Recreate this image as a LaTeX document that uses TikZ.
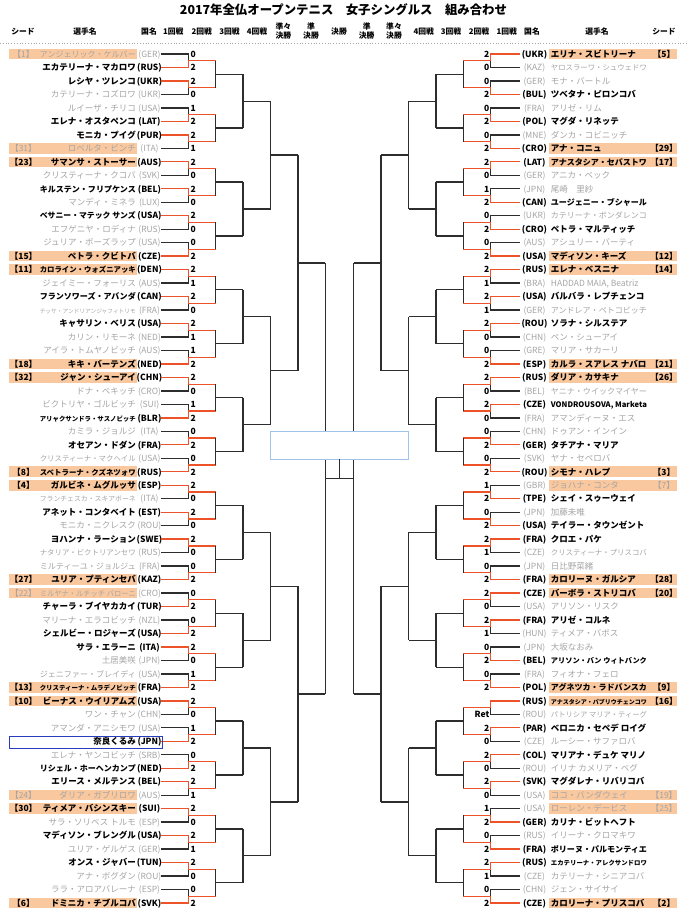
\documentclass[tikz,border=0pt]{standalone}
\usepackage{fontspec}
\usepackage{graphicx}
\setmainfont{Noto Sans CJK JP}
\definecolor{wincol}{RGB}{238,82,40}
\definecolor{losecol}{RGB}{45,45,45}
\definecolor{seedbg}{RGB}{250,200,158}
\definecolor{grayt}{RGB}{165,165,165}
\definecolor{bluebox}{RGB}{40,60,190}
\definecolor{champcol}{RGB}{160,195,235}
\newsavebox\nmbox
\newcommand\fitname[1]{\sbox\nmbox{#1}\ifdim\wd\nmbox>96pt\resizebox{96pt}{!}{\usebox\nmbox}\else\usebox\nmbox\fi}
\newcommand\setrowstyle[1]{%
  \ifnum#1=1 \def\tc{black}\def\ff{\fontsize{8.5}{10}\selectfont\bfseries}%
  \else\def\tc{grayt}\def\ff{\fontsize{8.5}{10}\selectfont\mdseries}\fi}
\newcommand\Lrow[6]{%
  \pgfmathsetmacro\yy{54+13.476*(#1-1)}%
  \setrowstyle{#6}%
  \expandafter\xdef\csname LW#1\endcsname{#6}%
  \if\relax\detokenize{#2}\relax\else
    \fill[seedbg] (9.3,\yy-5.3) rectangle (137.3,\yy+5.3);
    \node[txt,text=\tc,font=\ff] (LS#1) at (23.5,\yy) {【#2】};
  \fi
  \node[txt,anchor=east,text=\tc,font=\ff] (LN#1) at (136,\yy) {\fitname{#3}};
  \node[txt,text=\tc,font=\ff] (LC#1) at (149.5,\yy) {(#4)};
  \node[txt,anchor=west,font=\fontsize{8.5}{10}\selectfont\bfseries] (LR#1) at (190.5,\yy) {#5};
  \coordinate (LA#1) at (161,\yy);
  \coordinate (LB#1) at (188.3,\yy);
}
\newcommand\Rrow[6]{%
  \pgfmathsetmacro\yy{54+13.476*(#1-1)}%
  \setrowstyle{#6}%
  \expandafter\xdef\csname RW#1\endcsname{#6}%
  \if\relax\detokenize{#2}\relax\else
    \fill[seedbg] (549.3,\yy-5.3) rectangle (676.7,\yy+5.3);
    \node[txt,text=\tc,font=\ff] (RS#1) at (664,\yy) {【#2】};
  \fi
  \node[txt,anchor=west,text=\tc,font=\ff] (RN#1) at (550.7,\yy) {\fitname{#3}};
  \node[txt,text=\tc,font=\ff] (RC#1) at (534.5,\yy) {(#4)};
  \node[txt,anchor=east,font=\fontsize{8.5}{10}\selectfont\bfseries] (RR#1) at (489.5,\yy) {#5};
  \coordinate (RA#1) at (519.5,\yy);
  \coordinate (RB#1) at (490.7,\yy);
}
\begin{document}
\begin{tikzpicture}[x=1pt,y=-1pt,
  winl/.style={draw=wincol,line width=1.3pt,line join=miter},
  losel/.style={draw=losecol,line width=1.3pt,line join=miter},
  txt/.style={inner sep=0pt,text height=7.5pt,text depth=1pt},
  hdr/.style={inner sep=0pt,font=\fontsize{7.8}{9}\selectfont\bfseries,align=center}]
\useasboundingbox (0,0) rectangle (688,914);
\fill[white] (0,0) rectangle (688,914);
% title
\node[inner sep=0pt,font=\fontsize{12.4}{14}\selectfont\bfseries] (title) at (343.5,9.5) {2017年全仏オープンテニス　女子シングルス　組み合わせ};
% headers
\node[hdr] (h1) at (23,32) {シード};
\node[hdr] (h2) at (85,32) {選手名};
\node[hdr] (h3) at (149,32) {国名};
\node[hdr] (h4) at (173.3,32) {1回戦};
\node[hdr] (h5) at (201.7,32) {2回戦};
\node[hdr] (h6) at (229.5,32) {3回戦};
\node[hdr] (h7) at (257,32) {4回戦};
\node[hdr] (h8) at (283.3,31) {準々\\決勝};
\node[hdr] (h9) at (311,31) {準\\決勝};
\node[hdr] (h10) at (339,32) {決勝};
\node[hdr] (h11) at (366.7,31) {準\\決勝};
\node[hdr] (h12) at (394,31) {準々\\決勝};
\node[hdr] (h13) at (423.7,32) {4回戦};
\node[hdr] (h14) at (451,32) {3回戦};
\node[hdr] (h15) at (479,32) {2回戦};
\node[hdr] (h16) at (506.7,32) {1回戦};
\node[hdr] (h17) at (532,32) {国名};
\node[hdr] (h18) at (597,32) {選手名};
\node[hdr] (h19) at (664,32) {シード};
\coordinate (dl) at (0,43);
\coordinate (dr) at (688,43);
\draw[grayt,dotted,line width=0.8pt] (dl) -- (dr);
% left rows
\Lrow{1}{1}{アンジェリック・ケルバー}{GER}{0}{0}
\Lrow{2}{}{エカテリーナ・マカロワ}{RUS}{2}{1}
\Lrow{3}{}{レシヤ・ツレンコ}{UKR}{2}{1}
\Lrow{4}{}{カテリーナ・コズロワ}{UKR}{0}{0}
\Lrow{5}{}{ルイーザ・チリコ}{USA}{1}{0}
\Lrow{6}{}{エレナ・オスタペンコ}{LAT}{2}{1}
\Lrow{7}{}{モニカ・プイグ}{PUR}{2}{1}
\Lrow{8}{31}{ロベルタ・ビンチ}{ITA}{1}{0}
\Lrow{9}{23}{サマンサ・ストーサー}{AUS}{2}{1}
\Lrow{10}{}{クリスティーナ・クコバ}{SVK}{0}{0}
\Lrow{11}{}{キルステン・フリプケンス}{BEL}{2}{1}
\Lrow{12}{}{マンディ・ミネラ}{LUX}{0}{0}
\Lrow{13}{}{ベサニー・マテック サンズ}{USA}{2}{1}
\Lrow{14}{}{エフゲニヤ・ロディナ}{RUS}{0}{0}
\Lrow{15}{}{ジュリア・ボーズラップ}{USA}{0}{0}
\Lrow{16}{15}{ペトラ・クビトバ}{CZE}{2}{1}
\Lrow{17}{11}{カロライン・ウォズニアッキ}{DEN}{2}{1}
\Lrow{18}{}{ジェイミー・フォーリス}{AUS}{1}{0}
\Lrow{19}{}{フランソワーズ・アバンダ}{CAN}{2}{1}
\Lrow{20}{}{テッサ・アンドリアンジャフィトリモ}{FRA}{0}{0}
\Lrow{21}{}{キャサリン・ベリス}{USA}{2}{1}
\Lrow{22}{}{カリン・リモーネ}{NED}{1}{0}
\Lrow{23}{}{アイラ・トムヤノビッチ}{AUS}{1}{0}
\Lrow{24}{18}{キキ・バーテンズ}{NED}{2}{1}
\Lrow{25}{32}{ジャン・シューアイ}{CHN}{2}{1}
\Lrow{26}{}{ドナ・ベキッチ}{CRO}{0}{0}
\Lrow{27}{}{ビクトリヤ・ゴルビッチ}{SUI}{1}{0}
\Lrow{28}{}{アリャクサンドラ・サスノビッチ}{BLR}{2}{1}
\Lrow{29}{}{カミラ・ジョルジ}{ITA}{0}{0}
\Lrow{30}{}{オセアン・ドダン}{FRA}{2}{1}
\Lrow{31}{}{クリスティーナ・マクヘイル}{USA}{0}{0}
\Lrow{32}{8}{スベトラーナ・クズネツォワ}{RUS}{2}{1}
\Lrow{33}{4}{ガルビネ・ムグルッサ}{ESP}{2}{1}
\Lrow{34}{}{フランチェスカ・スキアボーネ}{ITA}{0}{0}
\Lrow{35}{}{アネット・コンタベイト}{EST}{2}{1}
\Lrow{36}{}{モニカ・ニクレスク}{ROU}{0}{0}
\Lrow{37}{}{ヨハンナ・ラーション}{SWE}{2}{1}
\Lrow{38}{}{ナタリア・ビクトリアンセワ}{RUS}{0}{0}
\Lrow{39}{}{ミルティーユ・ジョルジュ}{FRA}{0}{0}
\Lrow{40}{27}{ユリア・プティンセバ}{KAZ}{2}{1}
\Lrow{41}{22}{ミルヤナ・ルチッチ バローニ}{CRO}{0}{0}
\Lrow{42}{}{チャーラ・ブイヤカカイ}{TUR}{2}{1}
\Lrow{43}{}{マリーナ・エラコビッチ}{NZL}{0}{0}
\Lrow{44}{}{シェルビー・ロジャーズ}{USA}{2}{1}
\Lrow{45}{}{サラ・エラーニ}{ITA}{2}{1}
\Lrow{46}{}{土居美咲}{JPN}{0}{0}
\Lrow{47}{}{ジェニファー・ブレイディ}{USA}{1}{0}
\Lrow{48}{13}{クリスティーナ・ムラデノビッチ}{FRA}{2}{1}
\Lrow{49}{10}{ビーナス・ウイリアムズ}{USA}{2}{1}
\Lrow{50}{}{ワン・チャン}{CHN}{0}{0}
\Lrow{51}{}{アマンダ・アニシモワ}{USA}{1}{0}
\Lrow{52}{}{奈良くるみ}{JPN}{2}{1}
\Lrow{53}{}{エレナ・ヤンコビッチ}{SRB}{0}{0}
\Lrow{54}{}{リシェル・ホーヘンカンプ}{NED}{2}{1}
\Lrow{55}{}{エリース・メルテンス}{BEL}{2}{1}
\Lrow{56}{24}{ダリア・ガブリロワ}{AUS}{1}{0}
\Lrow{57}{30}{ティメア・バシンスキー}{SUI}{2}{1}
\Lrow{58}{}{サラ・ソリベス トルモ}{ESP}{0}{0}
\Lrow{59}{}{マディソン・ブレングル}{USA}{2}{1}
\Lrow{60}{}{ユリア・ゲルゲス}{GER}{1}{0}
\Lrow{61}{}{オンス・ジャバー}{TUN}{2}{1}
\Lrow{62}{}{アナ・ボグダン}{ROU}{0}{0}
\Lrow{63}{}{ララ・アロアバレーナ}{ESP}{0}{0}
\Lrow{64}{6}{ドミニカ・チブルコバ}{SVK}{2}{1}
% right rows
\Rrow{1}{5}{エリナ・スビトリーナ}{UKR}{2}{1}
\Rrow{2}{}{ヤロスラーワ・シュウェドワ}{KAZ}{0}{0}
\Rrow{3}{}{モナ・バートル}{GER}{0}{0}
\Rrow{4}{}{ツベタナ・ピロンコバ}{BUL}{2}{1}
\Rrow{5}{}{アリゼ・リム}{FRA}{0}{0}
\Rrow{6}{}{マグダ・リネッテ}{POL}{2}{1}
\Rrow{7}{}{ダンカ・コビニッチ}{MNE}{0}{0}
\Rrow{8}{29}{アナ・コニュ}{CRO}{2}{1}
\Rrow{9}{17}{アナスタシア・セバストワ}{LAT}{2}{1}
\Rrow{10}{}{アニカ・ベック}{GER}{0}{0}
\Rrow{11}{}{尾崎　里紗}{JPN}{1}{0}
\Rrow{12}{}{ユージェニー・ブシャール}{CAN}{2}{1}
\Rrow{13}{}{カテリーナ・ボンダレンコ}{UKR}{0}{0}
\Rrow{14}{}{ペトラ・マルティッチ}{CRO}{2}{1}
\Rrow{15}{}{アシュリー・バーティ}{AUS}{0}{0}
\Rrow{16}{12}{マディソン・キーズ}{USA}{2}{1}
\Rrow{17}{14}{エレナ・ベスニナ}{RUS}{2}{1}
\Rrow{18}{}{HADDAD MAIA, Beatriz}{BRA}{1}{0}
\Rrow{19}{}{バルバラ・レプチェンコ}{USA}{2}{1}
\Rrow{20}{}{アンドレア・ペトコビッチ}{GER}{1}{0}
\Rrow{21}{}{ソラナ・シルステア}{ROU}{2}{1}
\Rrow{22}{}{ペン・シューアイ}{CHN}{0}{0}
\Rrow{23}{}{マリア・サカーリ}{GRE}{0}{0}
\Rrow{24}{21}{カルラ・スアレス ナバロ}{ESP}{2}{1}
\Rrow{25}{26}{ダリア・カサキナ}{RUS}{2}{1}
\Rrow{26}{}{ヤニナ・ウイックマイヤー}{BEL}{0}{0}
\Rrow{27}{}{VONDROUSOVA, Marketa}{CZE}{2}{1}
\Rrow{28}{}{アマンディーヌ・エス}{FRA}{0}{0}
\Rrow{29}{}{ドゥアン・インイン}{CHN}{0}{0}
\Rrow{30}{}{タチアナ・マリア}{GER}{2}{1}
\Rrow{31}{}{ヤナ・セペロバ}{SVK}{0}{0}
\Rrow{32}{3}{シモナ・ハレプ}{ROU}{2}{1}
\Rrow{33}{7}{ジョハナ・コンタ}{GBR}{1}{0}
\Rrow{34}{}{シェイ・スゥーウェイ}{TPE}{2}{1}
\Rrow{35}{}{加藤未唯}{JPN}{0}{0}
\Rrow{36}{}{テイラー・タウンゼント}{USA}{2}{1}
\Rrow{37}{}{クロエ・パケ}{FRA}{2}{1}
\Rrow{38}{}{クリスティーナ・プリスコバ}{CZE}{1}{0}
\Rrow{39}{}{日比野菜緒}{JPN}{0}{0}
\Rrow{40}{28}{カロリーヌ・ガルシア}{FRA}{2}{1}
\Rrow{41}{20}{バーボラ・ストリコバ}{CZE}{2}{1}
\Rrow{42}{}{アリソン・リスク}{USA}{0}{0}
\Rrow{43}{}{アリゼ・コルネ}{FRA}{2}{1}
\Rrow{44}{}{ティメア・バボス}{HUN}{1}{0}
\Rrow{45}{}{大坂なおみ}{JPN}{0}{0}
\Rrow{46}{}{アリソン・バン ウィトバンク}{BEL}{2}{1}
\Rrow{47}{}{フィオナ・フェロ}{FRA}{0}{0}
\Rrow{48}{9}{アグネツカ・ラドバンスカ}{POL}{2}{1}
\Rrow{49}{16}{アナスタシア・パブリウチェンコワ}{RUS}{}{1}
\Rrow{50}{}{パトリシア マリア・ティーグ}{ROU}{Ret}{0}
\Rrow{51}{}{ベロニカ・セペデ ロイグ}{PAR}{2}{1}
\Rrow{52}{}{ルーシー・サファロバ}{CZE}{0}{0}
\Rrow{53}{}{マリアナ・デュケ マリノ}{COL}{2}{1}
\Rrow{54}{}{イリナ カメリア・ベグ}{ROU}{0}{0}
\Rrow{55}{}{マグダレナ・リバリコバ}{SVK}{2}{1}
\Rrow{56}{19}{ココ・バンダウェイ}{USA}{0}{0}
\Rrow{57}{25}{ローレン・デービス}{USA}{1}{0}
\Rrow{58}{}{カリナ・ビットヘフト}{GER}{2}{1}
\Rrow{59}{}{イリーナ・クロマキワ}{RUS}{0}{0}
\Rrow{60}{}{ポリーヌ・パルモンティエ}{FRA}{2}{1}
\Rrow{61}{}{エカテリーナ・アレクサンドロワ}{RUS}{2}{1}
\Rrow{62}{}{カテリーナ・シニアコバ}{CZE}{1}{0}
\Rrow{63}{}{ジェン・サイサイ}{CHN}{0}{0}
\Rrow{64}{2}{カロリーナ・プリスコバ}{CZE}{2}{1}
% first round brackets
\foreach \k in {1,...,32}{
  \pgfmathtruncatemacro\ra{2*\k-1}
  \pgfmathtruncatemacro\rb{2*\k}
  \pgfmathsetmacro\ym{54+13.476*(2*\k-1.5)}
  \coordinate (LM\k) at (188.3,\ym);
  \coordinate (LN\k) at (215.7,\ym);
  \coordinate (RM\k) at (490.7,\ym);
  \coordinate (RQ\k) at (463.3,\ym);
  \ifnum\csname LW\ra\endcsname=1\relax\def\ca{winl}\else\def\ca{losel}\fi
  \ifnum\csname LW\rb\endcsname=1\relax\def\cb{winl}\else\def\cb{losel}\fi
  \draw[\ca] (LA\ra) -- (LB\ra) -- (LM\k);
  \draw[\cb] (LA\rb) -- (LB\rb) -- (LM\k);
  \draw[winl] (LM\k) -- (LN\k);
  \ifnum\csname RW\ra\endcsname=1\relax\def\ca{winl}\else\def\ca{losel}\fi
  \ifnum\csname RW\rb\endcsname=1\relax\def\cb{winl}\else\def\cb{losel}\fi
  \draw[\ca] (RA\ra) -- (RB\ra) -- (RM\k);
  \draw[\cb] (RA\rb) -- (RB\rb) -- (RM\k);
  \draw[winl] (RM\k) -- (RQ\k);
}
% later rounds
\foreach \L in {2,...,5}{
  \pgfmathtruncatemacro\s{2^\L}
  \pgfmathtruncatemacro\n{64/\s}
  \pgfmathsetmacro\xl{188.3+27.4*(\L-1)}
  \pgfmathsetmacro\xn{188.3+27.4*\L}
  \pgfmathsetmacro\xr{490.7-27.4*(\L-1)}
  \pgfmathsetmacro\xrn{490.7-27.4*\L}
  \foreach \j in {1,...,\n}{
    \pgfmathsetmacro\rz{(\j-1)*\s+1}
    \pgfmathsetmacro\hh{\s/2}
    \pgfmathsetmacro\ya{54+13.476*(\rz+(\hh-1)/2-1)}
    \pgfmathsetmacro\yb{54+13.476*(\rz+\hh+(\hh-1)/2-1)}
    \pgfmathsetmacro\yc{54+13.476*(\rz+(\s-1)/2-1)}
    \coordinate (la) at (\xl,\ya);
    \coordinate (lb) at (\xl,\yb);
    \coordinate (lc) at (\xl,\yc);
    \coordinate (ld) at (\xn,\yc);
    \coordinate (ra) at (\xr,\ya);
    \coordinate (rb) at (\xr,\yb);
    \coordinate (rc) at (\xr,\yc);
    \coordinate (rd) at (\xrn,\yc);
    \draw[losel] (la) -- (lb);
    \draw[losel] (lc) -- (ld);
    \draw[losel] (ra) -- (rb);
    \draw[losel] (rc) -- (rd);
  }
}
% semifinals and final
\coordinate (SLa) at (325.3,262.88);
\coordinate (SLb) at (325.3,694.11);
\coordinate (SRa) at (353.7,262.88);
\coordinate (SRb) at (353.7,694.11);
\coordinate (FL) at (325.3,478.49);
\coordinate (FR) at (353.7,478.49);
\coordinate (FC) at (339.5,478.49);
\draw[losel] (SLa) -- (SLb);
\draw[losel] (SRa) -- (SRb);
\draw[losel] (FL) -- (FR);
\node[draw=champcol,fill=white,line width=0.8pt,minimum width=138pt,minimum height=27.3pt,inner sep=0pt] (champ) at (339.7,445.35) {};
\draw[losel] (champ.south -| FC) -- (FC);
% highlight box
\draw[bluebox,line width=0.8pt] (9.3,736.3) rectangle (162.5,748.8);
\end{tikzpicture}
\end{document}
